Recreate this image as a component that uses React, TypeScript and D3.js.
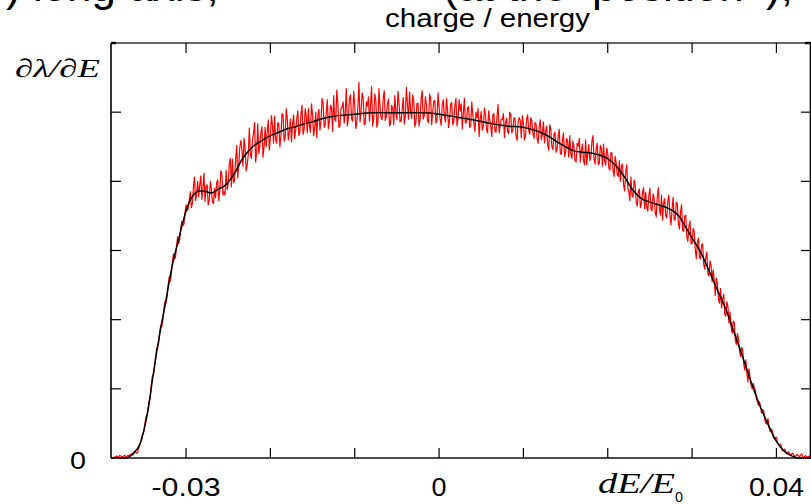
import React from 'react';
import * as d3 from 'd3';

const W = 811;
const H = 504;

// x in per-mille of dE/E0
const xTicks = [-30, -20, -10, 0, 10, 20, 30, 40];
const xTickLabels = [
  { v: -30, t: '-0.03', len: 69 },
  { v: 0, t: '0', len: 15 },
  { v: 40, t: '0.04', len: 55 },
];
const yTicks = [1, 2, 3, 4, 5];

const blackX = [-38.9, -38, -37, -36.5, -36, -35.5, -35, -34.5, -34, -33.5, -33, -32.5, -32, -31.5, -31, -30.5, -30, -29.5, -29, -28.5, -28, -27, -26.5, -26, -25.5, -25, -24.5, -24, -23.5, -23, -22.5, -22, -21, -20, -19, -18, -17, -16, -15, -14, -13, -12, -10, -8, -2, 0, 2, 4, 6, 8, 10, 11, 12, 13, 14, 15, 16, 17, 18, 19, 20, 21, 22, 23, 24, 25, 26, 27, 28, 28.5, 29, 30, 31, 32, 33, 34, 35, 36, 37, 38, 39, 40, 41, 42, 42.5, 44.1];
const blackY = [0, 0, 0, 0.04, 0.1, 0.19, 0.4, 0.7, 1.12, 1.52, 1.88, 2.2, 2.55, 2.86, 3.1, 3.35, 3.57, 3.73, 3.82, 3.86, 3.86, 3.83, 3.86, 3.9, 3.93, 3.99, 4.07, 4.17, 4.29, 4.38, 4.45, 4.51, 4.59, 4.66, 4.71, 4.76, 4.79, 4.83, 4.86, 4.9, 4.93, 4.95, 4.97, 4.99, 4.99, 4.97, 4.93, 4.89, 4.84, 4.8, 4.78, 4.75, 4.71, 4.65, 4.57, 4.5, 4.44, 4.42, 4.41, 4.38, 4.33, 4.22, 4.06, 3.87, 3.75, 3.7, 3.66, 3.62, 3.55, 3.49, 3.39, 3.18, 2.98, 2.71, 2.43, 2.15, 1.81, 1.46, 1.1, 0.77, 0.49, 0.24, 0.09, 0.02, 0, 0];

const redStart = -38.5;
const redStep = 0.125;
const redY = [
  0.02, 0.01, 0.03, 0.02, 0.01, 0.04, 0.03, 0.02,
  0.02, 0.03, 0.04, 0.01, 0.02, 0.04, 0.03, 0.05,
  0.06, 0.04, 0.05, 0.08, 0.09, 0.07, 0.08, 0.14,
  0.2, 0.23, 0.31, 0.36, 0.38, 0.5, 0.6, 0.62,
  0.72, 0.82, 0.86, 1.05, 1.18, 1.2, 1.3, 1.45,
  1.58, 1.6, 1.66, 1.82, 1.92, 1.9, 2.0, 2.16,
  2.26, 2.24, 2.33, 2.5, 2.62, 2.55, 2.66, 2.83,
  2.95, 2.88, 2.9, 3.08, 3.2, 3.1, 3.16, 3.33,
  3.42, 3.36, 3.38, 3.55, 3.66, 3.58, 3.6, 3.72,
  3.85, 3.62, 3.68, 3.92, 4.06, 3.72, 3.8, 4.0,
  3.78, 3.95, 4.08, 3.74, 3.9, 4.12, 3.71, 3.92,
  3.95, 3.66, 3.72, 4.0, 3.89, 3.7, 3.68, 3.9,
  3.76, 3.98, 4.02, 3.72, 3.86, 4.15, 4.1, 3.8,
  3.85, 3.8, 4.16, 3.88, 3.97, 4.25, 4.33, 3.92,
  4.32, 3.98, 4.02, 4.3, 4.52, 4.05, 4.23, 4.5,
  4.59, 4.45, 4.22, 4.62, 4.48, 4.15, 4.24, 4.38,
  4.77, 4.4, 4.33, 4.6, 4.69, 4.85, 4.28, 4.42,
  4.83, 4.4, 4.52, 4.7, 4.79, 4.35, 4.5, 4.78,
  4.5, 4.72, 4.89, 4.45, 4.64, 4.95, 4.8, 4.55,
  4.94, 4.6, 4.55, 4.85, 4.83, 4.5, 4.65, 4.98,
  4.96, 4.58, 4.63, 5.05, 4.91, 4.6, 4.72, 4.9,
  4.57, 4.82, 4.96, 4.62, 4.74, 4.9, 5.02, 4.66,
  4.71, 4.98, 5.1, 4.68, 4.75, 5.05, 4.94, 4.7,
  5.05, 4.8, 4.71, 5.12, 4.96, 4.66, 4.77, 5.0,
  4.63, 4.95, 5.04, 4.74, 4.88, 5.2, 5.13, 4.78,
  4.82, 5.0, 5.18, 4.76, 4.87, 5.1, 5.06, 4.72,
  5.24, 4.9, 4.87, 5.32, 5.13, 4.78, 4.8, 5.05,
  5.08, 5.15, 4.84, 5.0, 5.34, 4.8, 4.91, 5.2,
  5.25, 4.9, 4.87, 5.3, 5.12, 4.76, 4.85, 5.08,
  5.43, 4.86, 5.0, 5.28, 5.2, 4.82, 4.84, 5.15,
  5.09, 5.22, 4.87, 5.1, 5.37, 4.8, 4.91, 5.26,
  5.17, 4.78, 4.85, 5.34, 5.07, 4.92, 4.89, 5.2,
  5.31, 4.88, 4.94, 5.12, 5.19, 4.8, 4.84, 5.1,
  5.05, 4.82, 5.24, 5.0, 4.89, 5.3, 5.14, 4.86,
  4.87, 5.05, 5.21, 4.83, 4.95, 5.36, 5.11, 4.9,
  5.29, 5.02, 4.91, 5.25, 5.17, 4.79, 4.85, 5.12,
  5.13, 4.8, 4.89, 5.2, 5.31, 4.9, 4.95, 5.22,
  5.11, 4.88, 4.85, 5.26, 5.21, 4.82, 5.01, 5.16,
  5.17, 4.84, 4.89, 5.28, 5.07, 4.9, 4.81, 5.1,
  5.18, 4.95, 4.86, 5.2, 5.04, 4.78, 4.9, 5.12,
  5.14, 4.82, 4.86, 5.1, 5.2, 4.8, 4.9, 5.18,
  5.02, 5.12, 4.76, 4.98, 5.2, 4.84, 4.86, 5.06,
  5.08, 4.78, 4.8, 5.15, 4.96, 4.85, 4.72, 5.0,
  4.92, 5.05, 4.65, 4.9, 5.01, 4.74, 4.79, 5.06,
  4.97, 4.75, 4.7, 5.02, 4.9, 4.8, 4.65, 4.96,
  4.98, 4.72, 4.71, 4.95, 5.11, 4.7, 4.81, 4.9,
  4.89, 4.98, 4.63, 4.85, 4.91, 4.72, 4.69, 5.0,
  4.97, 4.7, 4.74, 4.92, 4.91, 4.66, 4.59, 4.86,
  4.92, 4.88, 4.63, 4.95, 4.84, 4.6, 4.66, 4.9,
  4.96, 4.74, 4.68, 4.92, 4.88, 4.7, 4.62, 4.85,
  4.83, 4.62, 4.55, 4.8, 4.89, 4.6, 4.68, 4.86,
  4.56, 4.72, 4.8, 4.52, 4.45, 4.82, 4.75, 4.5,
  4.46, 4.68, 4.71, 4.42, 4.47, 4.65, 4.75, 4.4,
  4.39, 4.6, 4.7, 4.36, 4.42, 4.62, 4.58, 4.35,
  4.66, 4.4, 4.33, 4.58, 4.49, 4.3, 4.28, 4.55,
  4.51, 4.62, 4.28, 4.45, 4.54, 4.3, 4.24, 4.6,
  4.24, 4.4, 4.53, 4.3, 4.35, 4.58, 4.66, 4.32,
  4.25, 4.48, 4.55, 4.24, 4.26, 4.52, 4.47, 4.22,
  4.54, 4.3, 4.23, 4.48, 4.41, 4.2, 4.16, 4.42,
  4.4, 4.15, 4.07, 4.36, 4.27, 4.1, 4.07, 4.3,
  4.0, 4.22, 4.25, 3.95, 3.86, 4.12, 4.24, 3.9,
  3.85, 3.72, 4.06, 3.8, 3.77, 4.02, 3.95, 3.7,
  3.64, 3.85, 3.89, 3.62, 3.69, 3.84, 3.91, 3.6,
  3.84, 3.62, 3.57, 3.8, 3.9, 3.6, 3.57, 3.82,
  3.76, 3.55, 3.49, 3.78, 3.91, 3.6, 3.51, 3.8,
  3.44, 3.68, 3.75, 3.5, 3.47, 3.72, 3.8, 3.5,
  3.37, 3.6, 3.77, 3.44, 3.45, 3.7, 3.67, 3.4,
  3.31, 3.55, 3.66, 3.3, 3.27, 3.5, 3.51, 3.2,
  3.13, 3.35, 3.43, 3.1, 3.1, 3.32, 3.28, 3.02,
  2.88, 3.12, 3.18, 2.9, 2.88, 3.08, 3.1, 2.8,
  2.73, 2.9, 2.98, 2.66, 2.63, 2.85, 2.79, 2.55,
  2.72, 2.58, 2.35, 2.6, 2.53, 2.3, 2.24, 2.45,
  2.17, 2.3, 2.37, 2.08, 2.05, 2.26, 2.19, 1.95,
  2.11, 1.9, 1.8, 1.98, 1.96, 1.7, 1.64, 1.8,
  1.73, 1.55, 1.47, 1.6, 1.56, 1.35, 1.27, 1.42,
  1.22, 1.1, 1.29, 1.16, 1.05, 1.0, 1.08, 1.02,
  0.98, 0.86, 0.81, 0.76, 0.81, 0.72, 0.65, 0.7,
  0.68, 0.55, 0.5, 0.49, 0.57, 0.44, 0.38, 0.42,
  0.4, 0.3, 0.28, 0.29, 0.3, 0.22, 0.18, 0.2,
  0.2, 0.14, 0.1, 0.12, 0.13, 0.08, 0.06, 0.09,
  0.08, 0.05, 0.04, 0.07, 0.06, 0.03, 0.02, 0.04,
  0.05, 0.03, 0.02, 0.04, 0.06, 0.02, 0.01, 0.03,
  0.03, 0.02, 0.01, 0.03, 0.02,
];

export default function App() {
  const x = d3.scaleLinear().domain([-38.9, 44.1]).range([111, 811]);
  const y = d3.scaleLinear().domain([0, 6]).range([458, 43]);

  const blackData: [number, number][] = blackX.map((v, i) => [v, blackY[i]]);
  const redData: [number, number][] = redY.map((v, i) => [redStart + i * redStep, v]);

  const smooth = d3.line<[number, number]>().x(d => x(d[0])).y(d => y(d[1])).curve(d3.curveMonotoneX);
  const raw = d3.line<[number, number]>().x(d => x(d[0])).y(d => y(d[1]));

  const [x0, x1] = x.range();
  const [yb, yt] = y.range();
  const sans = 'Liberation Sans, Arial, sans-serif';
  const serif = 'Liberation Serif, Times New Roman, serif';

  return (
    <svg width={W} height={H} style={{ position: 'absolute', left: 0, top: 0, background: '#fff' }}>
      <rect x={0} y={0} width={W} height={H} fill="#fff" />
      {/* cut-off slide text at the top */}
      <text y={1} fontSize={44} fontFamily={sans} fill="#000">
        <tspan x={6}>) long axis,</tspan>
        <tspan x={443}>(at the</tspan>
        <tspan x={592}>position</tspan>
        <tspan x={766}>),</tspan>
      </text>
      <text x={385} y={27} fontSize={26} fontFamily={sans} fill="#000" textLength={205} lengthAdjust="spacingAndGlyphs">
        charge / energy
      </text>

      {/* curves */}
      <path d={raw(redData) || ''} fill="none" stroke="#ff0000" strokeWidth={1.2} strokeLinejoin="round" />
      <path d={smooth(blackData) || ''} fill="none" stroke="#000" strokeWidth={1.5} />

      {/* frame */}
      <line x1={x0} x2={x1} y1={yt} y2={yt} stroke="#333" strokeWidth={1.6} />
      <line x1={x0} x2={x1} y1={yb} y2={yb} stroke="#111" strokeWidth={1.6} />
      <line x1={x0} x2={x0} y1={yt} y2={yb} stroke="#000" strokeWidth={1.6} />
      <line x1={x1 - 0.5} x2={x1 - 0.5} y1={yt} y2={yb} stroke="#000" strokeWidth={1.6} />
      <line x1={x0} x2={x0 + 5} y1={yt} y2={yt} stroke="#000" strokeWidth={2.4} />
      <line x1={x1 - 6} x2={x1} y1={yt} y2={yt} stroke="#000" strokeWidth={2.4} />

      {/* ticks */}
      {xTicks.map(t => (
        <g key={'xt' + t}>
          <line x1={x(t)} x2={x(t)} y1={yb} y2={yb - 10} stroke="#000" strokeWidth={1.2} />
          <line x1={x(t)} x2={x(t)} y1={yt} y2={yt + 10} stroke="#000" strokeWidth={1.2} />
        </g>
      ))}
      {yTicks.map(t => (
        <g key={'yt' + t}>
          <line x1={x0} x2={x0 + 10} y1={y(t)} y2={y(t)} stroke="#000" strokeWidth={1.2} />
          <line x1={x1 - 10} x2={x1} y1={y(t)} y2={y(t)} stroke="#000" strokeWidth={1.2} />
        </g>
      ))}

      {/* tick labels */}
      {xTickLabels.map(l => (
        <text key={'xl' + l.v} x={x(l.v)} y={496} fontSize={25} fontFamily={sans} textAnchor="middle"
          textLength={l.len} lengthAdjust="spacingAndGlyphs" fill="#000">{l.t}</text>
      ))}
      <text x={70} y={469} fontSize={24} fontFamily={sans} textLength={16} lengthAdjust="spacingAndGlyphs" fill="#000">0</text>

      {/* axis titles */}
      <text x={15} y={77} fontSize={26} fontFamily={serif} fontStyle="italic" textLength={85}
        lengthAdjust="spacingAndGlyphs" fill="#000">∂λ/∂E</text>
      <text x={598} y={493} fontSize={29} fontFamily={serif} fontStyle="italic" textLength={77}
        lengthAdjust="spacingAndGlyphs" fill="#000">dE/E</text>
      <text x={675} y={502} fontSize={15} fontFamily={sans} textLength={8} lengthAdjust="spacingAndGlyphs" fill="#000">0</text>
    </svg>
  );
}
